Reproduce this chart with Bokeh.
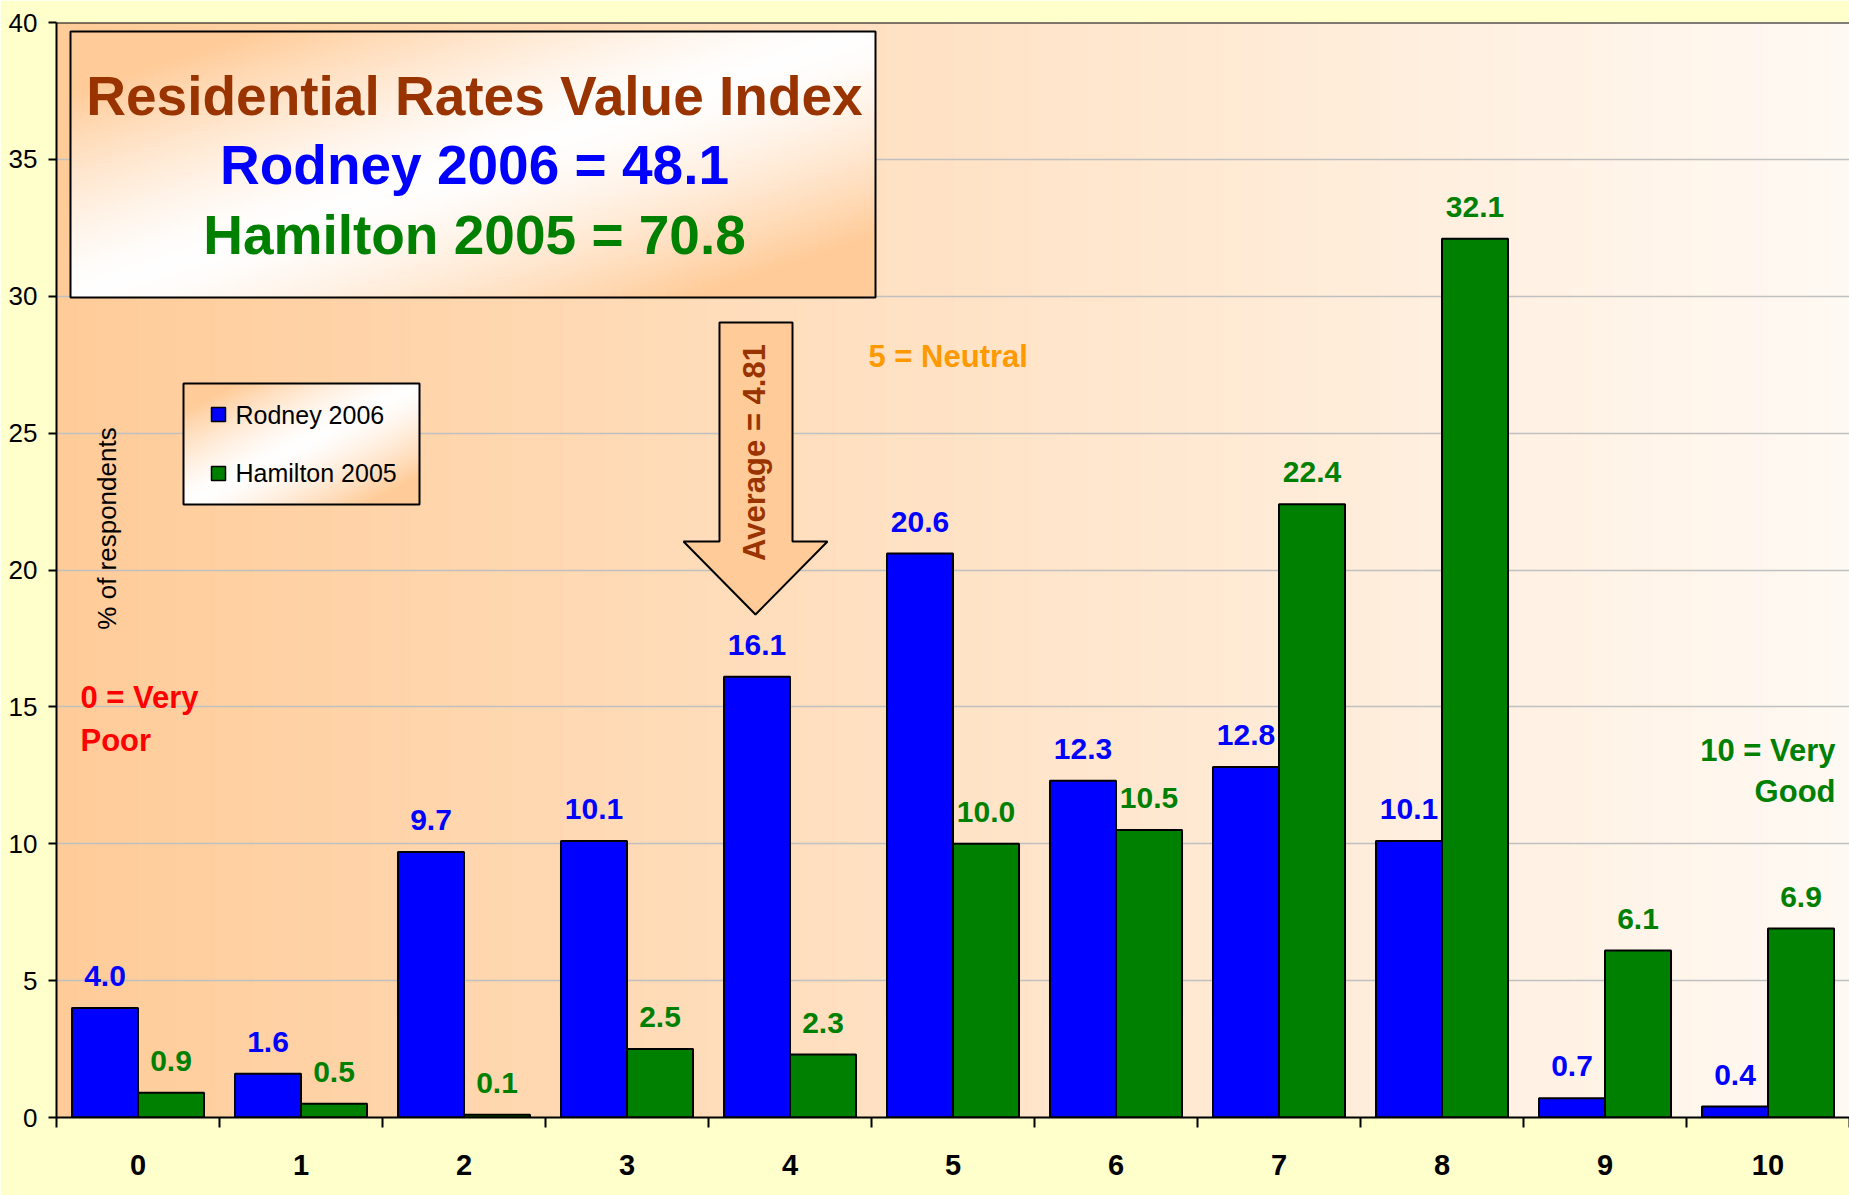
import numpy as np
from bokeh.plotting import figure
from bokeh.models import Range1d, FixedTicker, ColumnDataSource, Span, BoxAnnotation
from bokeh.transform import dodge
from bokeh.core.properties import value
from bokeh.embed import file_html
from bokeh.resources import INLINE

# ---------------- data ----------------
categories = ["0", "1", "2", "3", "4", "5", "6", "7", "8", "9", "10"]
rodney_2006 = [4.0, 1.6, 9.7, 10.1, 16.1, 20.6, 12.3, 12.8, 10.1, 0.7, 0.4]
hamilton_2005 = [0.9, 0.5, 0.1, 2.5, 2.3, 10.0, 10.5, 22.4, 32.1, 6.1, 6.9]
y_ticks = [0, 5, 10, 15, 20, 25, 30, 35, 40]
series_names = ["Rodney 2006", "Hamilton 2005"]
title_lines = ["Residential Rates Value Index", "Rodney 2006 = 48.1", "Hamilton 2005 = 70.8"]
average_label = "Average = 4.81"
neutral_label = "5 = Neutral"
poor_lines = ["0 = Very", "Poor"]
good_lines = ["10 = Very", "Good"]
y_label = "% of respondents"

# ---------------- style ----------------
FONT = "Liberation Sans"
BLUE = "#0000FF"
GREEN = "#008000"
BROWN = "#993300"
RED = "#FF0000"
ORANGE = "#FF9900"
PEACH = (255, 204, 153)

# layout helpers: reference-pixel position -> data position
def X(px):
    return (px - 56) / 163.0

def Y(py):
    return (1117 - py) / 27.375

W, H = 1849, 1195
p = figure(width=W, height=H, x_range=Range1d(0, 11), y_range=Range1d(0, 40),
           output_backend="svg", toolbar_location=None,
           min_border_left=56, min_border_right=0, min_border_top=22, min_border_bottom=78)
p.border_fill_color = "#FFFFCC"
p.background_fill_color = "#FFF9F3"
p.outline_line_color = None

# slide edge strip on the far left
p.add_layout(BoxAnnotation(left=0, right=3, top=0, bottom=272,
                           left_units="canvas", right_units="canvas",
                           top_units="canvas", bottom_units="canvas",
                           fill_color="#CC9900", fill_alpha=1, line_color=None))
p.add_layout(BoxAnnotation(left=0, right=3, top=272, bottom=H,
                           left_units="canvas", right_units="canvas",
                           top_units="canvas", bottom_units="canvas",
                           fill_color="#800000", fill_alpha=1, line_color=None))

# plot-area gradient (orange left -> almost white right)
N = 600
t = np.linspace(0, 1, N)
bg = np.zeros((1, N), dtype=np.uint32)
bv = bg.view(np.uint8).reshape((1, N, 4))
bv[0, :, 0] = 255
bv[0, :, 1] = (204 + (250 - 204) * t).astype(np.uint8)
bv[0, :, 2] = (153 + (244 - 153) * t).astype(np.uint8)
bv[0, :, 3] = 255
p.image_rgba(image=[bg], x=0, y=0, dw=11, dh=40, level="image")

p.ygrid.grid_line_color = "#C0C0C0"
p.ygrid.grid_line_width = 1.5
p.xgrid.grid_line_color = None


def corner_gradient(nr, nc):
    u = (np.arange(nc) + 0.5) / nc
    vv = 1 - (np.arange(nr) + 0.5) / nr
    U, V = np.meshgrid(u, vv)
    w = np.clip(np.abs(U + V - 1) * 1.3, 0, 1) ** 1.4
    img = np.zeros((nr, nc), dtype=np.uint32)
    view = img.view(np.uint8).reshape((nr, nc, 4))
    view[..., 0] = 255
    view[..., 1] = (255 + (PEACH[1] - 255) * w).astype(np.uint8)
    view[..., 2] = (255 + (PEACH[2] - 255) * w).astype(np.uint8)
    view[..., 3] = 255
    return img


# ---------------- title box ----------------
tl, tr, tt, tb = X(70), X(875), Y(31), Y(297)
p.image_rgba(image=[corner_gradient(90, 270)], x=tl, y=tb, dw=tr - tl, dh=tt - tb)
p.quad(left=[tl], right=[tr], top=[tt], bottom=[tb], fill_color=None,
       line_color="black", line_width=2)
p.text(x=[X(474)] * 3, y=[Y(95), Y(164), Y(234)], text=title_lines,
       text_color=[BROWN, BLUE, GREEN], text_font=value(FONT), text_font_style="bold",
       text_font_size="55px", text_align="center", text_baseline="middle")

# ---------------- legend box ----------------
ll, lr, lt, lb = X(183), X(419), Y(383), Y(504)
p.image_rgba(image=[corner_gradient(60, 120)], x=ll, y=lb, dw=lr - ll, dh=lt - lb)
p.quad(left=[ll], right=[lr], top=[lt], bottom=[lb], fill_color=None,
       line_color="black", line_width=2)
p.scatter(x=[X(218)] * 2, y=[Y(414), Y(473)], marker="square", size=14,
          fill_color=[BLUE, GREEN], line_color="black", line_width=1.5)
p.text(x=[X(235)] * 2, y=[Y(414), Y(472)], text=series_names, text_color="black",
       text_font=value(FONT), text_font_size="25px", text_align="left",
       text_baseline="middle")

# ---------------- bars ----------------
src = ColumnDataSource(dict(
    pos=[i + 0.5 for i in range(len(categories))],
    rodney=rodney_2006,
    hamilton=hamilton_2005,
    rl=[f"{v:.1f}" for v in rodney_2006],
    hl=[f"{v:.1f}" for v in hamilton_2005],
))
OFF = 0.2025
BW = 0.405
p.vbar(x=dodge("pos", -OFF, range=p.x_range), top="rodney", width=BW, source=src,
       fill_color=BLUE, line_color="black", line_width=2)
p.vbar(x=dodge("pos", OFF, range=p.x_range), top="hamilton", width=BW, source=src,
       fill_color=GREEN, line_color="black", line_width=2)
p.text(x=dodge("pos", -OFF, range=p.x_range), y="rodney", text="rl", source=src,
       text_color=BLUE, text_font=value(FONT), text_font_style="bold",
       text_font_size="30px", text_align="center", text_baseline="middle", y_offset=-32)
p.text(x=dodge("pos", OFF, range=p.x_range), y="hamilton", text="hl", source=src,
       text_color=GREEN, text_font=value(FONT), text_font_style="bold",
       text_font_size="30px", text_align="center", text_baseline="middle", y_offset=-32)

# ---------------- arrow ----------------
ax = [X(v) for v in (719, 792, 792, 827, 755, 683, 719)]
ay = [Y(v) for v in (322, 322, 541, 541, 614, 541, 541)]
p.patch(ax, ay, fill_color="#FFCC99", line_color="black", line_width=2)
p.text(x=[X(754)], y=[Y(452)], text=[average_label], angle=np.pi / 2,
       text_color=BROWN, text_font=value(FONT), text_font_style="bold",
       text_font_size="31px", text_align="center", text_baseline="middle")

# ---------------- annotations ----------------
p.text(x=[X(868)], y=[Y(356)], text=[neutral_label], text_color=ORANGE,
       text_font=value(FONT), text_font_style="bold", text_font_size="31px",
       text_align="left", text_baseline="middle")
p.text(x=[X(80)] * 2, y=[Y(697), Y(740)], text=poor_lines, text_color=RED,
       text_font=value(FONT), text_font_style="bold", text_font_size="31px",
       text_align="left", text_baseline="middle")
p.text(x=[X(1835)] * 2, y=[Y(750), Y(791)], text=good_lines, text_color=GREEN,
       text_font=value(FONT), text_font_style="bold", text_font_size="31px",
       text_align="right", text_baseline="middle")
p.text(x=[X(106)], y=[Y(528)], text=[y_label], angle=np.pi / 2, text_color="black",
       text_font=value(FONT), text_font_size="26px", text_align="center",
       text_baseline="middle")

# top frame line
p.add_layout(Span(location=40, dimension="width", line_color="black", line_width=2))

# ---------------- axes ----------------
xa = p.xaxis[0]
xa.ticker = FixedTicker(ticks=[i + 0.5 for i in range(len(categories))],
                        minor_ticks=list(range(len(categories) + 1)))
xa.major_label_overrides = {i + 0.5: c for i, c in enumerate(categories)}
xa.major_tick_line_color = None
xa.major_tick_out = 0
xa.major_tick_in = 0
xa.minor_tick_out = 10
xa.minor_tick_in = 0
xa.minor_tick_line_color = "black"
xa.minor_tick_line_width = 2
xa.axis_line_color = "black"
xa.axis_line_width = 2
xa.major_label_text_font = FONT
xa.major_label_text_font_size = "29px"
xa.major_label_text_font_style = "bold"
xa.major_label_text_color = "black"
xa.major_label_standoff = 27

ya = p.yaxis[0]
ya.ticker = FixedTicker(ticks=y_ticks, minor_ticks=[])
ya.major_tick_out = 8
ya.major_tick_in = 0
ya.major_tick_line_color = "black"
ya.major_tick_line_width = 2
ya.minor_tick_line_color = None
ya.axis_line_color = "black"
ya.axis_line_width = 2
ya.major_label_text_font = FONT
ya.major_label_text_font_size = "26px"
ya.major_label_text_color = "black"
ya.major_label_standoff = 11

open("out.html", "w").write(file_html(p, INLINE))
